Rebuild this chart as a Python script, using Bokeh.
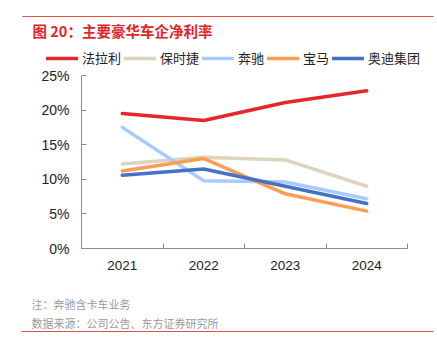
from bokeh.plotting import figure
from bokeh.models import (Range1d, FixedTicker, PrintfTickFormatter, Legend, LegendItem,
                          Label, BoxAnnotation)
from bokeh.embed import file_html
from bokeh.resources import INLINE

years = ["2021", "2022", "2023", "2024"]
ferrari = [19.5, 18.5, 21.1, 22.8]
porsche = [12.2, 13.2, 12.8, 9.0]
benz = [17.5, 9.8, 9.6, 7.2]
bmw = [11.2, 13.0, 7.9, 5.4]
audi = [10.6, 11.5, 9.0, 6.5]
series_names = ["法拉利", "保时捷", "奔驰", "宝马", "奥迪集团"]
series_values = [ferrari, porsche, benz, bmw, audi]
colors = ["#E6262B", "#DDD4BE", "#A8CBFE", "#FF9D55", "#4472C4"]
y_ticks = [0, 5, 10, 15, 20, 25]
title_text = "图 20：主要豪华车企净利率"
notes = ["注：奔驰含卡车业务", "数据来源：公司公告、东方证券研究所"]

CJK = "Noto Sans CJK SC"
LAT = "Liberation Sans"

# page geometry (pixels): the plot area of the chart inside the full canvas
W, H = 437, 350
AX_L, AX_R, AX_T, AX_B = 81, 407, 75, 248
n = len(years)
x_lo, x_hi = 0.5, n + 0.5
y_lo, y_hi = y_ticks[0], y_ticks[-1]
ppx = (AX_R - AX_L) / (x_hi - x_lo)
ppy = (AX_B - AX_T) / (y_hi - y_lo)


def px_x(px):
    return x_lo + (px - AX_L) / ppx


def px_y(py):
    return y_lo + (AX_B - py) / ppy


p = figure(width=W, height=H, output_backend="svg", toolbar_location=None,
           title_location=None,
           x_range=Range1d(px_x(0), px_x(W)), y_range=Range1d(px_y(H), px_y(0)),
           min_border=0, min_border_left=0, min_border_right=0,
           min_border_top=0, min_border_bottom=0,
           background_fill_color="white", border_fill_color="white")
p.outline_line_color = None
p.grid.visible = False

xs = list(range(1, n + 1))
items = []
for name, vals, c in zip(series_names, series_values, colors):
    r = p.line(xs, vals, line_color=c, line_width=3.5, line_cap="round",
               line_join="round")
    items.append(LegendItem(label=name, renderers=[r]))

# x axis
p.xaxis.fixed_location = y_lo
p.xaxis.bounds = (x_lo, x_hi)
p.xaxis.ticker = FixedTicker(ticks=xs, minor_ticks=[x + 0.5 for x in range(0, n + 1)])
p.xaxis.major_label_overrides = {x: y for x, y in zip(xs, years)}
p.xaxis.major_tick_in = 0
p.xaxis.major_tick_out = 0
p.xaxis.minor_tick_in = 5
p.xaxis.minor_tick_out = 0
p.xaxis.axis_line_color = "#8c8c8c"
p.xaxis.minor_tick_line_color = "#8c8c8c"
p.xaxis.major_label_text_font = LAT
p.xaxis.major_label_text_font_size = "13.5px"
p.xaxis.major_label_text_color = "#222222"
p.xaxis.major_label_standoff = 12

# y axis
p.yaxis.fixed_location = x_lo
p.yaxis.bounds = (y_lo, y_hi)
p.yaxis.ticker = FixedTicker(ticks=y_ticks, minor_ticks=[])
p.yaxis.formatter = PrintfTickFormatter(format="%d%%")
p.yaxis.major_tick_in = 5
p.yaxis.major_tick_out = 0
p.yaxis.axis_line_color = "#8c8c8c"
p.yaxis.major_tick_line_color = "#8c8c8c"
p.yaxis.major_label_text_font = LAT
p.yaxis.major_label_text_font_size = "14px"
p.yaxis.major_label_text_color = "#222222"
p.yaxis.major_label_standoff = 12

# legend above the plot area
legend = Legend(items=items, orientation="horizontal", location=(46, H - 67),
                glyph_width=32, glyph_height=16, label_standoff=4, spacing=3,
                label_height=16, padding=0, margin=0, border_line_color=None,
                background_fill_alpha=0, label_text_font=CJK,
                label_text_font_size="13px", label_text_color="#222222")
p.add_layout(legend, "center")

# header and footer
p.add_layout(Label(x=px_x(32), y=px_y(30), text=title_text, text_font=CJK,
                   text_font_size="14.5px", text_font_style="bold",
                   text_color="#E0262A", text_baseline="middle"))
for t, yy in zip(notes, [303, 322]):
    p.add_layout(Label(x=px_x(31), y=px_y(yy), text=t, text_font=CJK,
                       text_font_size="11px", text_color="#9a9a9a",
                       text_baseline="middle"))
for yy, x0 in [(16, 22), (331, 21)]:
    p.add_layout(BoxAnnotation(left=px_x(x0), right=px_x(433),
                               top=px_y(yy - 0.5), bottom=px_y(yy + 0.5),
                               fill_color="#E2504B", fill_alpha=1, line_color=None))

open("out.html", "w").write(file_html(p, INLINE))
